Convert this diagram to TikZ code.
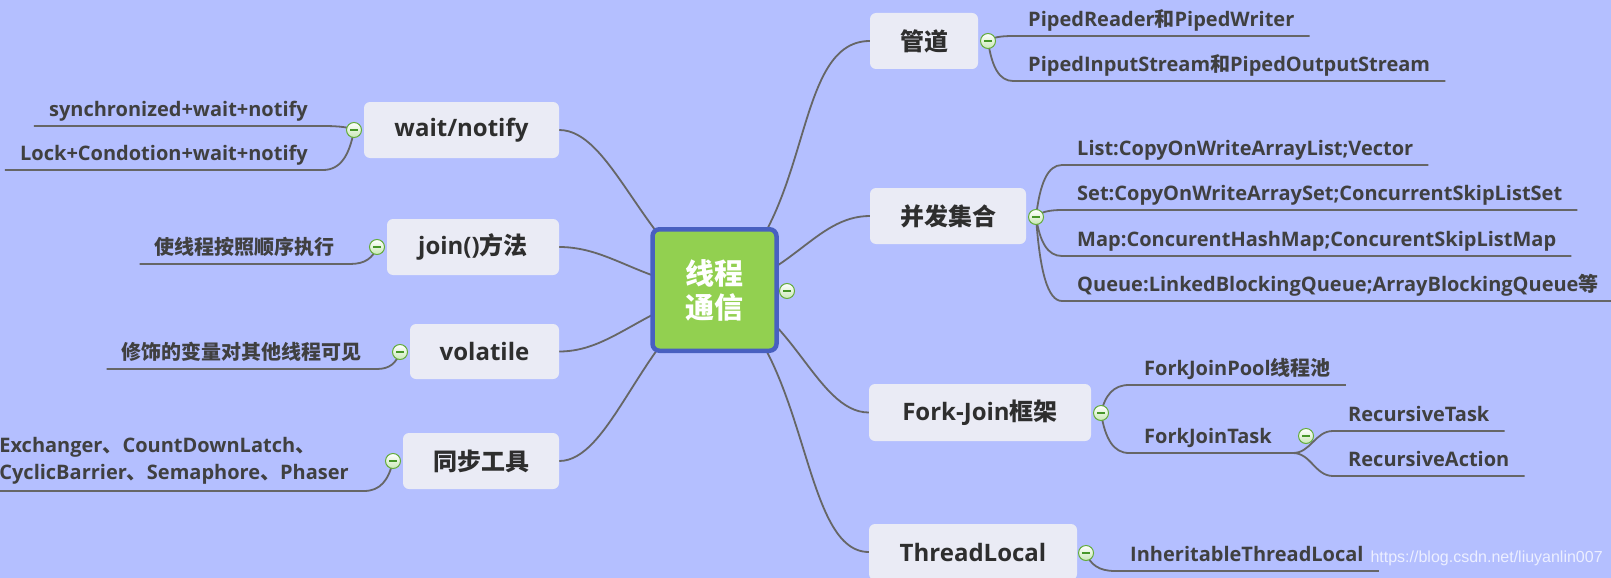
\documentclass[tikz,border=0pt]{standalone}
\usepackage{fontspec}
\setmainfont{Open Sans}
\newfontfamily\cjkf{Noto Sans CJK SC}
\newfontfamily\wmfont{Liberation Sans}
\newcommand\zhs[1]{{\cjkf #1}}
\usetikzlibrary{backgrounds}
\definecolor{bgc}{RGB}{180,191,255}
\definecolor{nodec}{RGB}{234,235,245}
\definecolor{txtb}{RGB}{46,46,46}
\definecolor{txtl}{RGB}{64,64,64}
\definecolor{linec}{RGB}{102,102,102}
\definecolor{rootf}{RGB}{146,208,80}
\definecolor{rootb}{RGB}{72,96,192}
\definecolor{togb}{RGB}{100,172,60}
\definecolor{togf}{RGB}{200,232,180}
\definecolor{togm}{RGB}{70,150,40}
\tikzset{
  rootbox/.style={rounded corners=7pt, fill=rootf, draw=rootb, line width=4.5pt,
    minimum width=124pt, minimum height=121.5pt, text=white, align=center,
    font=\fontsize{29}{34}\selectfont\bfseries},
  branch/.style={rounded corners=6pt, fill=nodec, text=txtb, inner sep=0pt,
    minimum height=56pt, font=\fontsize{24}{28}\selectfont\bfseries},
  leafr/.style={font=\fontsize{20}{24}\selectfont\bfseries, text=txtl,
    inner xsep=15pt, inner ysep=4pt, text height=15pt, text depth=5pt, anchor=south west},
  leafl/.style={leafr, anchor=south east},
  leafm/.style={font=\fontsize{20}{27}\selectfont\bfseries, text=txtl, align=left,
    inner xsep=15pt, inner ysep=7pt, anchor=south east},
  conn/.style={draw=linec, line width=1.8pt},
  tog/.style={circle, minimum size=15pt, inner sep=0pt, draw=togb, line width=1pt,
    top color=white, bottom color=togf,
    path picture={\draw[togm, line width=1.4pt]
      ([xshift=3.5pt]path picture bounding box.west) -- ([xshift=-3.5pt]path picture bounding box.east);}},
}
\begin{document}
\begin{tikzpicture}[x=1pt,y=-1pt]
\useasboundingbox (0,0) rectangle (1611,578);
% central node
\node[rootbox] (root) at (714.5,290) {\zhs{线程}\\\zhs{通信}};
% branch nodes
\node[branch, minimum width=195pt] (wn) at (461.5,130) {wait/notify};
\node[branch, minimum width=172pt] (jn) at (473,247) {join()\zhs{方法}};
\node[branch, minimum width=149pt, minimum height=55pt] (vo) at (484.5,351.5) {volatile};
\node[branch, minimum width=156pt] (tb) at (481,461) {\zhs{同步工具}};
\node[branch, minimum width=108pt] (gd) at (924,41) {\zhs{管道}};
\node[branch, minimum width=156pt] (bf) at (948,216) {\zhs{并发集合}};
\node[branch, minimum width=222pt, minimum height=57pt] (fj) at (980,412.5) {Fork-Join\zhs{框架}};
\node[branch, minimum width=208pt] (tl) at (973,552) {ThreadLocal};
% leaves left
\node[leafl] (wn1) at (323,126) {synchronized+wait+notify};
\node[leafl] (wn2) at (323,170) {Lock+Condotion+wait+notify};
\node[leafl] (jn1) at (350,264) {\zhs{使线程按照顺序执行}};
\node[leafl] (vo1) at (377,369) {\zhs{修饰的变量对其他线程可见}};
\node[leafm] (tb1) at (364,491) {Exchanger\zhs{、}CountDownLatch\zhs{、}\\CyclicBarrier\zhs{、}Semaphore\zhs{、}Phaser};
% leaves right
\node[leafr] (gd1) at (1013,36) {PipedReader\zhs{和}PipedWriter};
\node[leafr] (gd2) at (1013,81) {PipedInputStream\zhs{和}PipedOutputStream};
\node[leafr] (bf1) at (1062,165) {List:CopyOnWriteArrayList;Vector};
\node[leafr] (bf2) at (1062,210) {Set:CopyOnWriteArraySet;ConcurrentSkipListSet};
\node[leafr] (bf3) at (1062,256) {Map:ConcurentHashMap;ConcurentSkipListMap};
\node[leafr] (bf4) at (1062,301) {Queue:LinkedBlockingQueue;ArrayBlockingQueue\zhs{等}};
\node[leafr] (fj1) at (1129,385) {ForkJoinPool\zhs{线程池}};
\node[leafr] (fj2) at (1129,453) {ForkJoinTask};
\node[leafr] (r1) at (1333,431) {RecursiveTask};
\node[leafr] (r2) at (1333,476) {RecursiveAction};
\node[leafr] (tl1) at (1115,571) {InheritableThreadLocal};
\coordinate (fjx) at ([xshift=6pt]fj2.south east);
% toggles
\node[tog] (t0) at (787,291) {};
\node[tog] (t1) at (354,130) {};
\node[tog] (t2) at (377,247) {};
\node[tog] (t3) at (400,352) {};
\node[tog] (t4) at (393,461) {};
\node[tog] (t5) at (988,41) {};
\node[tog] (t6) at (1036,217) {};
\node[tog] (t7) at (1101,413) {};
\node[tog] (t8) at (1306,436) {};
\node[tog] (t9) at (1086,553) {};
% watermark
\node[font=\wmfont\fontsize{16}{16}\selectfont, text=white, opacity=0.75, anchor=west] (wm) at (1367,558) {https://blog.csdn.net/liuyanlin007};
\begin{scope}[on background layer]
\fill[bgc] (0,0) rectangle (1611,578);
% root to branches
\draw[conn] (root.center) .. controls (815,225) and (790,41) .. (gd.west);
\draw[conn] (root.center) .. controls (790,280) and (815,216) .. (bf.west);
\draw[conn] (root.center) .. controls (790,300) and (815,412.5) .. (fj.west);
\draw[conn] (root.center) .. controls (810,350) and (800,552) .. (tl.west);
\draw[conn] (root.center) .. controls (640,240) and (610,130) .. (wn.east);
\draw[conn] (root.center) .. controls (640,282) and (610,247) .. (jn.east);
\draw[conn] (root.center) .. controls (640,310) and (610,351.5) .. (vo.east);
\draw[conn] (root.center) .. controls (640,340) and (610,461) .. (tb.east);
% left leaves
\draw[conn] (t1.center) .. controls +(-4.6,-2.6) and +(17,0) .. (wn1.south east) -- (wn1.south west);
\draw[conn] (t1.center) .. controls +(-4.6,26) and +(17,0) .. (wn2.south east) -- (wn2.south west);
\draw[conn] (t2.center) .. controls +(-4,11) and +(15,0) .. (jn1.south east) -- (jn1.south west);
\draw[conn] (t3.center) .. controls +(-3.5,11) and +(12.6,0) .. (vo1.south east) -- (vo1.south west);
\draw[conn] (t4.center) .. controls +(-4.4,19.5) and +(16,0) .. (tb1.south east) -- (tb1.south west);
% right leaves
\draw[conn] (t5.center) .. controls +(3.8,-3.3) and +(-13.8,0) .. (gd1.south west) -- (gd1.south east);
\draw[conn] (t5.center) .. controls +(3.8,26) and +(-13.8,0) .. (gd2.south west) -- (gd2.south east);
\draw[conn] (t6.center) .. controls +(3.9,-33.8) and +(-14.3,0) .. (bf1.south west) -- (bf1.south east);
\draw[conn] (t6.center) .. controls +(3.9,-4.5) and +(-14.3,0) .. (bf2.south west) -- (bf2.south east);
\draw[conn] (t6.center) .. controls +(3.9,25.4) and +(-14.3,0) .. (bf3.south west) -- (bf3.south east);
\draw[conn] (t6.center) .. controls +(3.9,54.6) and +(-14.3,0) .. (bf4.south west) -- (bf4.south east);
\draw[conn] (t7.center) .. controls +(4.2,-18.2) and +(-15.4,0) .. (fj1.south west) -- (fj1.south east);
\draw[conn] (t7.center) .. controls +(4.2,26) and +(-15.4,0) .. (fj2.south west) -- (fjx);
\draw[conn] (fjx) .. controls +(18,0) and +(-18,0) .. (r1.south west) -- (r1.south east);
\draw[conn] (fjx) .. controls +(18,0) and +(-18,0) .. (r2.south west) -- (r2.south east);
\draw[conn] (t9.center) .. controls +(4.4,11.7) and +(-16,0) .. (tl1.south west) -- (tl1.south east);
\end{scope}
\end{tikzpicture}
\end{document}
